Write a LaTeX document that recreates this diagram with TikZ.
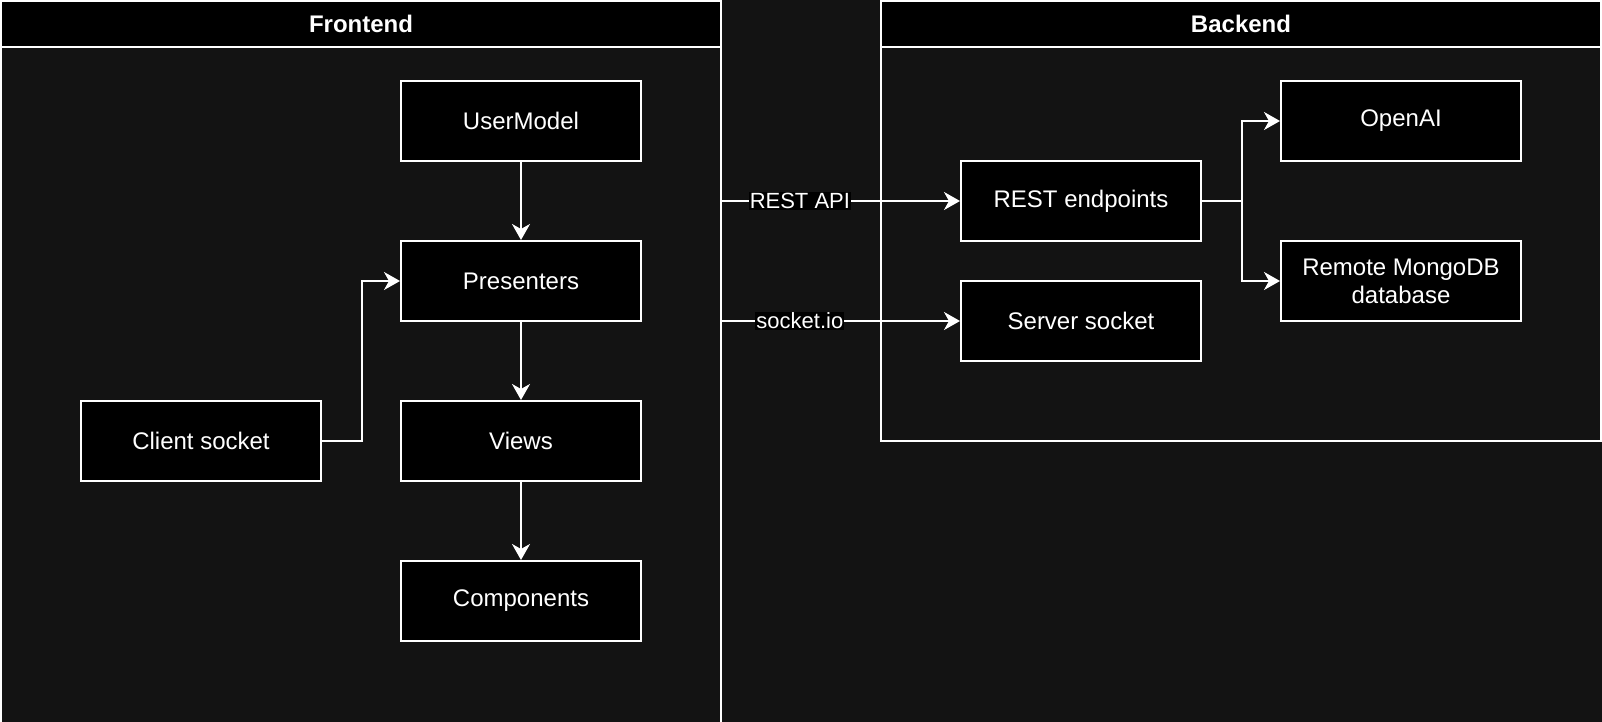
\documentclass[tikz,border=0pt]{standalone}
\usepackage{fontspec}
\setmainfont{Liberation Sans}
\usetikzlibrary{positioning,arrows.meta}
\definecolor{PageDark}{HTML}{131313}

\begin{document}
\begin{tikzpicture}[x=1pt, y=-1pt,
  comp/.style={draw=white, line width=1pt, fill=black, text=white, align=center, minimum width=120pt, minimum height=40pt, inner sep=0pt, font=\fontsize{12}{14}\selectfont},
  lane/.style={draw=white, line width=1pt},
  head/.style={draw=white, line width=1pt, fill=black, text=white, minimum width=360pt, minimum height=23pt, inner sep=0pt, font=\bfseries\fontsize{12}{14}\selectfont},
  flow/.style={-{Stealth[length=8pt, width=9pt, inset=2.5pt]}, draw=white, line width=1pt},
  tag/.style={fill=black, text=white, inner sep=0.5pt, font=\fontsize{11}{13}\selectfont}]
\fill[PageDark] (-0.5,-0.5) rectangle (800.5,360.5);
\useasboundingbox (-0.5,-0.5) rectangle (800.5,360.5);
% lanes
\draw[lane] (0,361) -- (0,0) -- (360,0) -- (360,361);
\draw[lane] (440,0) rectangle (800,220);
\node[head] (front) at (180,11.5) {Frontend};
\node[head] (back)  at (620,11.5) {Backend};
% frontend
\node[comp] (user)   at (260,60)  {UserModel};
\node[comp] (pres)   at (260,140) {Presenters};
\node[comp] (views)  at (260,220) {Views};
\node[comp] (compo)  at (260,300) {Components};
\node[comp] (client) at (100,220) {Client socket};
% backend
\node[comp] (rest)   at (540,100) {REST endpoints};
\node[comp] (srv)    at (540,160) {Server socket};
\node[comp] (openai) at (700,60)  {OpenAI};
\node[comp] (mongo)  at (700,140) {Remote MongoDB\\database};
\coordinate (restout) at (360,100);
\coordinate (sockout) at (360,160);
\draw[flow] (user) -- (pres);
\draw[flow] (pres) -- (views);
\draw[flow] (views) -- (compo);
\draw[flow] (client.east) -- ++(20,0) |- (pres.west);
\draw[flow] (restout) -- node[tag, pos=0.33] {REST API} (rest);
\draw[flow] (sockout) -- node[tag, pos=0.33] {socket.io} (srv);
\draw[flow] (rest.east) -- ++(20,0) |- (openai.west);
\draw[flow] (rest.east) -- ++(20,0) |- (mongo.west);
\end{tikzpicture}
\end{document}
